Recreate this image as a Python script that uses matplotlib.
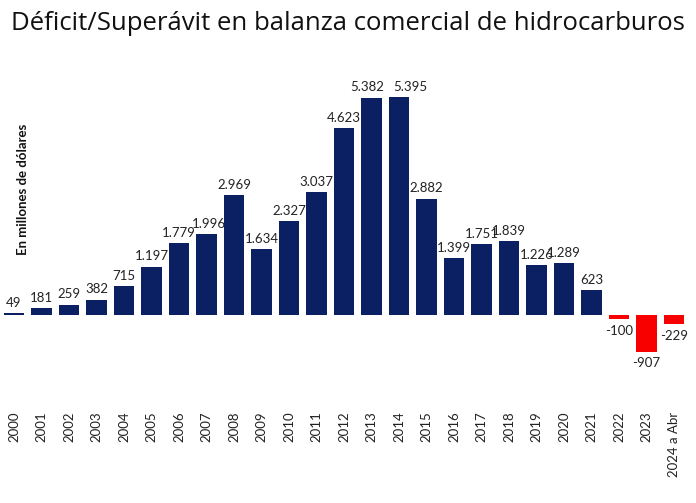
import matplotlib
matplotlib.use('Agg')
import matplotlib.pyplot as plt
import numpy as np

years = ['2000', '2001', '2002', '2003', '2004', '2005', '2006', '2007', '2008',
         '2009', '2010', '2011', '2012', '2013', '2014', '2015', '2016', '2017',
         '2018', '2019', '2020', '2021', '2022', '2023', '2024 a Abr']
values = [49, 181, 259, 382, 715, 1197, 1779, 1996, 2969, 1634, 2327, 3037,
          4623, 5382, 5395, 2882, 1399, 1751, 1839, 1226, 1289, 623,
          -100, -907, -229]
labels = ['49', '181', '259', '382', '715', '1.197', '1.779', '1.996', '2.969',
          '1.634', '2.327', '3.037', '4.623', '5.382', '5.395', '2.882', '1.399',
          '1.751', '1.839', '1.226', '1.289', '623', '-100', '-907', '-229']

# labels nudged sideways in the original (points)
nudge = {13: -3, 14: 8, 7: 2}

navy = '#0b1f63'
red = '#f80000'

plt.rcParams['font.family'] = ['Lato', 'DejaVu Sans']

W, H = 696, 503
fig = plt.figure(figsize=(W / 100, H / 100), dpi=100)
ax = fig.add_axes([0, 1 - 395 / H, 1, (395 - 60) / H])

x = np.arange(len(values))
colors = [navy if v >= 0 else red for v in values]
ax.bar(x, values, width=0.75, color=colors)

for xi, v, lab in zip(x, values, labels):
    dx = nudge.get(xi, 0)
    if v >= 0:
        ax.annotate(lab, (xi, v), xytext=(dx, 3), textcoords='offset points',
                    ha='center', va='bottom', fontsize=9.5, color='#222222')
    else:
        ax.annotate(lab, (xi, v), xytext=(dx, -4), textcoords='offset points',
                    ha='center', va='top', fontsize=9.5, color='#222222')

step = 27.5
ax.set_xlim(-14 / step, (W - 14) / step)
ax.set_ylim(-(395 - 315) / 0.0404, (315 - 60) / 0.0404)

ax.set_xticks(x)
ax.set_xticklabels(years, rotation=90, fontsize=9.5, color='#222222')
ax.tick_params(axis='x', length=0, pad=12)
ax.set_yticks([])
for s in ax.spines.values():
    s.set_visible(False)

fig.text(23 / W, 1 - 189 / H, 'En millones de dólares', rotation=90,
         ha='center', va='center', fontsize=9.5, fontweight='bold', color='#111111')

fig.text(348 / W, 1 - 23 / H, 'Déficit/Superávit en balanza comercial de hidrocarburos',
         ha='center', va='center', fontsize=18.5, family=['Open Sans', 'DejaVu Sans'],
         color='#111111')

fig.savefig('out.png', dpi=100)
